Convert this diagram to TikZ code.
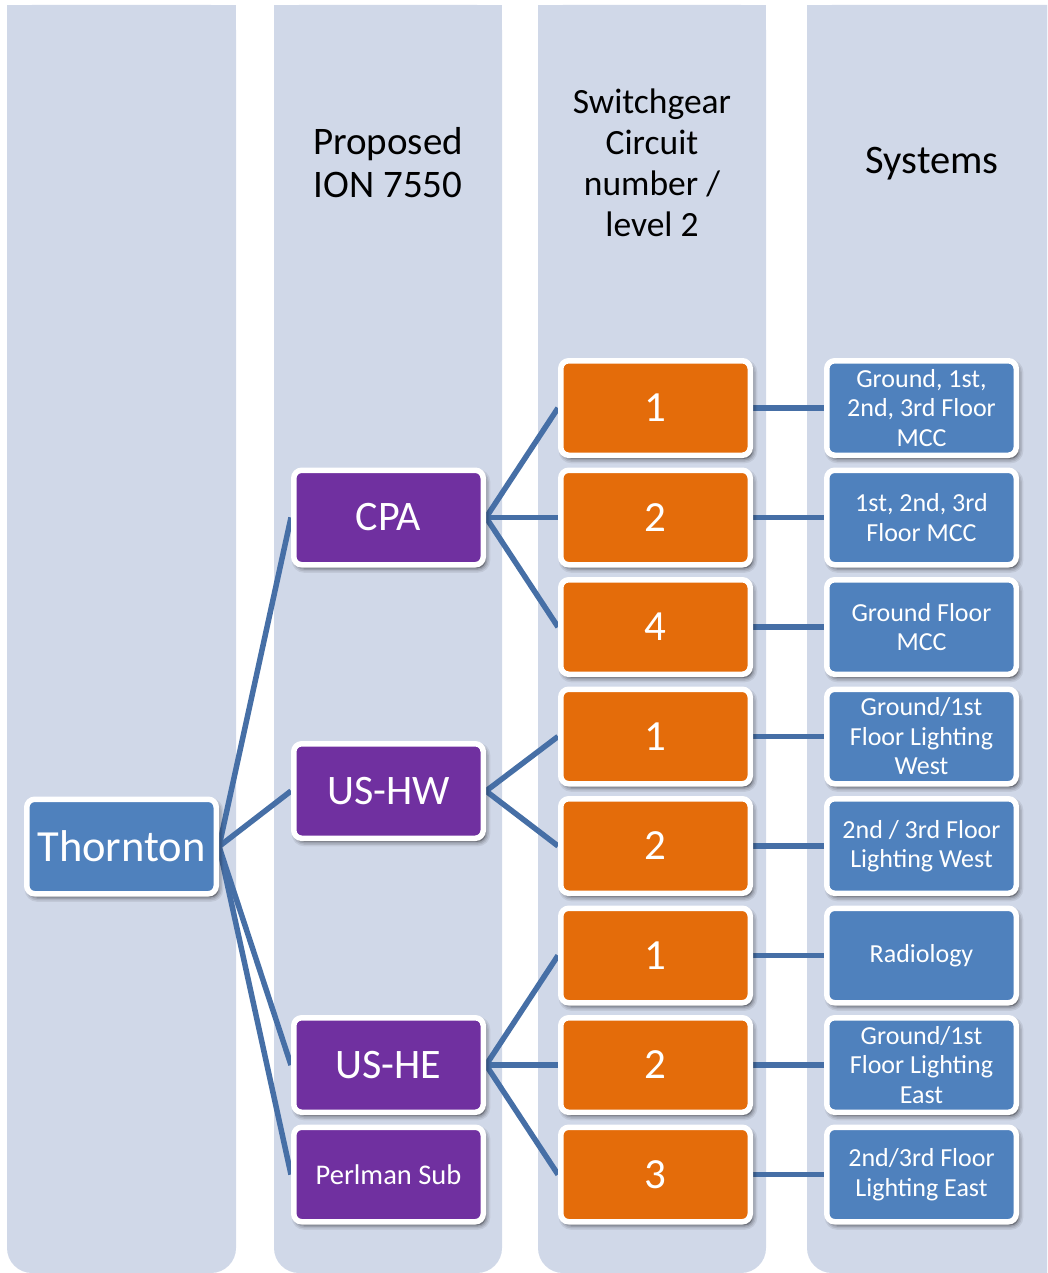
\documentclass[tikz,border=0pt]{standalone}
\usepackage{fontspec}
\setmainfont{Carlito}
\usetikzlibrary{backgrounds}
\definecolor{colbg}{HTML}{D0D8E8}
\definecolor{nodeblue}{HTML}{4F81BD}
\definecolor{nodepurple}{HTML}{7030A0}
\definecolor{nodeorange}{HTML}{E46C0A}
\definecolor{connblue}{HTML}{466FA6}
\begin{document}
\begin{tikzpicture}[x=1pt,y=-1pt,
  softshadow/.style={
    preaction={fill=black, draw=black, fill opacity=0.07, draw opacity=0.07, line width=9pt, transform canvas={xshift=2.5pt,yshift=-3.5pt}},
    preaction={fill=black, draw=black, fill opacity=0.09, draw opacity=0.09, line width=6pt, transform canvas={xshift=2.5pt,yshift=-3.5pt}},
    preaction={fill=black, draw=black, fill opacity=0.12, draw opacity=0.12, line width=3pt, transform canvas={xshift=2.5pt,yshift=-3.5pt}}},
  box/.style={rounded corners=8pt, draw=white, line width=5.5pt,
    minimum width=189.5pt, minimum height=94.5pt, inner sep=0pt,
    align=center, text=white, softshadow},
  bluebox/.style={box, fill=nodeblue},
  purplebox/.style={box, fill=nodepurple, font=\fontsize{42}{46}\selectfont},
  orangebox/.style={box, fill=nodeorange, font=\fontsize{43}{46}\selectfont},
  sysbox/.style={bluebox, font=\fontsize{26}{29.5}\selectfont},
  hdr/.style={align=center, text=black, inner sep=0pt},
  conn/.style={draw=connblue, line width=5.5pt}
]
\useasboundingbox (0,0) rectangle (1047,1273);
\begin{scope}[on background layer]
  \begin{scope}
    \clip (0,0) rectangle (1047,1273);
    \foreach \xa/\xb in {7/236,274/502,538/766,807/1090} {
      \fill[colbg, rounded corners=25pt] (\xa,5) rectangle (\xb,1273);
      \fill[colbg] (\xa,5) rectangle (\xb,80);
    }
  \end{scope}
\end{scope}

% headers
\node[hdr, font=\fontsize{39}{43}\selectfont] (h2) at (388,163) {Proposed\\ION 7550};
\node[hdr, font=\fontsize{35.5}{41}\selectfont] (h3) at (652,163) {Switchgear\\Circuit\\number /\\level 2};
\node[hdr, font=\fontsize{40.5}{44}\selectfont] (h4) at (932,164) {Systems};

% level 1
\node[bluebox, font=\fontsize{44.5}{48}\selectfont] (th) at (121.5,846.5) {Thornton};

% level 2
\node[purplebox] (cpa) at (388.5,517.5) {CPA};
\node[purplebox] (ushw) at (388.5,791) {US-HW};
\node[purplebox] (ushe) at (388.5,1065) {US-HE};
\node[purplebox, font=\fontsize{28.5}{32}\selectfont] (perl) at (388.5,1174.5) {Perlman Sub};

% level 3
\node[orangebox] (o1) at (655.5,408) {1};
\node[orangebox] (o2) at (655.5,517.5) {2};
\node[orangebox] (o3) at (655.5,627) {4};
\node[orangebox] (o4) at (655.5,736.5) {1};
\node[orangebox] (o5) at (655.5,846) {2};
\node[orangebox] (o6) at (655.5,955.5) {1};
\node[orangebox] (o7) at (655.5,1065) {2};
\node[orangebox] (o8) at (655.5,1174.5) {3};

% level 4
\node[sysbox] (s1) at (921.5,408) {Ground, 1st,\\2nd, 3rd Floor\\MCC};
\node[sysbox] (s2) at (921.5,517.5) {1st, 2nd, 3rd\\Floor MCC};
\node[sysbox] (s3) at (921.5,627) {Ground Floor\\MCC};
\node[sysbox] (s4) at (921.5,736.5) {Ground/1st\\Floor Lighting\\West};
\node[sysbox] (s5) at (921.5,846) {2nd / 3rd Floor\\Lighting West};
\node[sysbox] (s6) at (921.5,955.5) {Radiology};
\node[sysbox] (s7) at (921.5,1065) {Ground/1st\\Floor Lighting\\East};
\node[sysbox] (s8) at (921.5,1174.5) {2nd/3rd Floor\\Lighting East};

\begin{scope}[on background layer]
  \draw[conn] (th.east) -- (cpa.west);
  \draw[conn] (th.east) -- (ushw.west);
  \draw[conn] (th.east) -- (ushe.west);
  \draw[conn] (th.east) -- (perl.west);
  \draw[conn] (cpa.east) -- (o1.west);
  \draw[conn] (cpa.east) -- (o2.west);
  \draw[conn] (cpa.east) -- (o3.west);
  \draw[conn] (ushw.east) -- (o4.west);
  \draw[conn] (ushw.east) -- (o5.west);
  \draw[conn] (ushe.east) -- (o6.west);
  \draw[conn] (ushe.east) -- (o7.west);
  \draw[conn] (ushe.east) -- (o8.west);
  \draw[conn] (o1.east) -- (s1.west);
  \draw[conn] (o2.east) -- (s2.west);
  \draw[conn] (o3.east) -- (s3.west);
  \draw[conn] (o4.east) -- (s4.west);
  \draw[conn] (o5.east) -- (s5.west);
  \draw[conn] (o6.east) -- (s6.west);
  \draw[conn] (o7.east) -- (s7.west);
  \draw[conn] (o8.east) -- (s8.west);
\end{scope}
\end{tikzpicture}
\end{document}
